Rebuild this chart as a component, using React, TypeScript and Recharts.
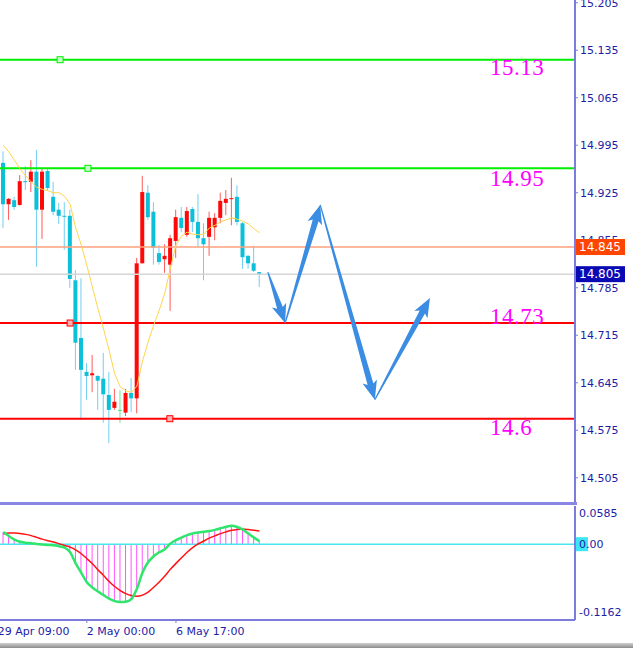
import React from "react";
import {
    ComposedChart,
    Bar,
    Line,
    XAxis,
    YAxis,
    ReferenceLine,
    ReferenceDot,
} from "recharts";

// candles (oldest first)
const opens = [
    14.969, 14.908, 14.914, 14.907, 14.942, 14.941, 14.956, 14.9, 14.957, 14.919,
    14.9, 14.891, 14.891, 14.796, 14.711, 14.661, 14.656, 14.655, 14.651, 14.627,
    14.608, 14.605, 14.601, 14.63, 14.622, 14.821, 14.925, 14.897, 14.836, 14.827,
    14.819, 14.854, 14.888, 14.863, 14.901, 14.882, 14.858, 14.86, 14.874, 14.888,
    14.91, 14.916, 14.919, 14.88, 14.832, 14.821, 14.808,
];
const highs = [
    14.986, 14.917, 14.919, 14.951, 14.964, 14.973, 14.988, 14.961, 14.96, 14.941,
    14.91, 14.911, 14.9, 14.811, 14.799, 14.674, 14.686, 14.656, 14.689, 14.661,
    14.636, 14.634, 14.636, 14.652, 14.829, 14.95, 14.936, 14.911, 14.848, 14.849,
    14.863, 14.9, 14.904, 14.904, 14.904, 14.923, 14.88, 14.897, 14.895, 14.925,
    14.929, 14.947, 14.936, 14.882, 14.833, 14.847, 14.808,
];
const lows = [
    14.873, 14.885, 14.9, 14.906, 14.929, 14.926, 14.816, 14.857, 14.929, 14.892,
    14.879, 14.841, 14.785, 14.664, 14.59, 14.62, 14.631, 14.605, 14.586, 14.556,
    14.605, 14.586, 14.596, 14.602, 14.6, 14.821, 14.885, 14.819, 14.819, 14.807,
    14.751, 14.829, 14.867, 14.86, 14.867, 14.845, 14.796, 14.832, 14.855, 14.88,
    14.892, 14.877, 14.877, 14.813, 14.813, 14.808, 14.786,
];
const closes = [
    14.908, 14.916, 14.904, 14.942, 14.941, 14.956, 14.9, 14.956, 14.932, 14.897,
    14.891, 14.89, 14.798, 14.704, 14.664, 14.655, 14.659, 14.648, 14.628, 14.605,
    14.617, 14.605, 14.63, 14.622, 14.821, 14.926, 14.889, 14.844, 14.823, 14.832,
    14.858, 14.889, 14.873, 14.898, 14.882, 14.858, 14.849, 14.888, 14.888, 14.913,
    14.916, 14.917, 14.882, 14.83, 14.821, 14.81, 14.805,
];
// yellow moving average
const ma = [
    14.995, 14.985, 14.973, 14.96, 14.95, 14.941, 14.933, 14.93, 14.928, 14.925,
    14.925, 14.92, 14.908, 14.873, 14.848, 14.818, 14.786, 14.754, 14.724, 14.693,
    14.658, 14.639, 14.633, 14.631, 14.64, 14.677, 14.705, 14.73, 14.752, 14.777,
    14.814, 14.848, 14.861, 14.867, 14.864, 14.863, 14.864, 14.873, 14.877, 14.882,
    14.885, 14.888, 14.886, 14.883, 14.879, 14.872, 14.866,
];
// MACD main (green + histogram) and signal (red)
const macd = [
    0.0185, 0.0124, 0.007, 0.0036, 0.0023, 0.0015, 0.0003, -0.0005, -0.0011, -0.0015,
    -0.0031, -0.0054, -0.0124, -0.0294, -0.044, -0.0583, -0.0665, -0.0726, -0.0781, -0.0835,
    -0.0873, -0.0886, -0.0881, -0.0842, -0.068, -0.0433, -0.0278, -0.0185, -0.0124, -0.0077,
    0.0008, 0.0062, 0.01, 0.0139, 0.0165, 0.0178, 0.019, 0.0201, 0.0219, 0.0243,
    0.0266, 0.0281, 0.0263, 0.0224, 0.0162, 0.01, 0.0046,
];
const signal = [
    0.0155, 0.017, 0.0173, 0.0162, 0.015, 0.0131, 0.0104, 0.0077, 0.0054, 0.0034,
    0.0008, -0.002, -0.0046, -0.0088, -0.0147, -0.0221, -0.0301, -0.0394, -0.0479, -0.0572,
    -0.0649, -0.0711, -0.0757, -0.0788, -0.0799, -0.0781, -0.0734, -0.066, -0.058, -0.0487,
    -0.0386, -0.0294, -0.0209, -0.0124, -0.0054, 0.0003, 0.0049, 0.0093, 0.0127, 0.0162,
    0.0189, 0.0212, 0.0226, 0.0232, 0.0224, 0.0212, 0.0201,
];

const priceTicks = [15.205, 15.135, 15.065, 14.995, 14.925, 14.855, 14.785, 14.715, 14.645, 14.575, 14.505];
const macdTicks = [0.0585, 0, -0.1162];
const macdTickLabels = ["0.0585", "0.00", "-0.1162"];
const timeTicks = [-1, 15, 31];
const timeLabels = ["29 Apr 09:00", "2 May 00:00", "6 May 17:00"];

// drawn levels
const levels = [15.121, 14.961, 14.733, 14.592];
const levelTexts = ["15.13", "14.95", "14.73", "14.6"];
const askPrice = 14.845;
const bidPrice = 14.805;
const tagPrices = [askPrice, bidPrice];

// forecast zigzag: candle index / price
const pathIdx = [47.5, 50.6, 56.9, 66.7, 76.6];
const pathPrice = [14.808, 14.733, 14.907, 14.62, 14.77];

const candles = opens.map((o, i) => ({
    i,
    range: [lows[i], highs[i]],
    open: o,
    close: closes[i],
    ma: ma[i],
    macd: macd[i],
    signal: signal[i],
}));

const X_DOMAIN = [-0.59, 102.64];
const Y_DOMAIN = [14.4678, 15.209];
const MAIN_H = 503;
const PX = MAIN_H / (Y_DOMAIN[1] - Y_DOMAIN[0]);
const AXIS = "#7c7cdc";
const TXT = "#1d1da6";
const FONT = "DejaVu Sans, sans-serif";
const levelColors = ["#00ee00", "#00ee00", "#ff0000", "#ff0000"];
const levelFill = ["#c8ffc8", "#c8ffc8", "#ffb0b0", "#ffb0b0"];
const tagColors = ["#ff4500", "#0a0ab4"];
const anchorIdx = [10.2, 15.2, 12.0, 29.9];
const labelIdx = 87.4;
const labelPrice = [15.0985, 14.935, 14.7315, 14.568];

function Candle(props: any) {
    const { x, y, width, height, payload } = props;
    if (!payload || height == null) return null;
    const [lo, hi] = payload.range;
    const top = Math.min(y, y + height);
    const h = Math.abs(height);
    const k = h / (hi - lo);
    const c = x + width / 2;
    const yO = top + (hi - payload.open) * k;
    const yC = top + (hi - payload.close) * k;
    const doji = payload.open === payload.close;
    const up = payload.close > payload.open;
    const body = doji ? "#55dd77" : up ? "#ff0808" : "#0cc0da";
    const wick = doji ? "#66e888" : up ? "#ff5a5a" : "#70cff4";
    const bt = Math.min(yO, yC);
    const bh = Math.max(Math.abs(yO - yC), 1);
    return (
        <g>
            <line x1={c} x2={c} y1={top} y2={top + h} stroke={wick} strokeWidth={1} />
            <rect x={c - 2} y={bt} width={4} height={bh} fill={body} />
        </g>
    );
}

function HistBar(props: any) {
    const { x, y, width, height } = props;
    if (height == null) return null;
    const c = x + width / 2;
    return <line x1={c} x2={c} y1={y} y2={y + height} stroke="#ff55ff" strokeWidth={1} />;
}

function Arrow(props: any) {
    const { x1, y1, x2, y2 } = props;
    const dx = x2 - x1;
    const dy = y2 - y1;
    const L = Math.hypot(dx, dy);
    if (!L) return null;
    const ux = dx / L;
    const uy = dy / L;
    const nx = -uy;
    const ny = ux;
    const head = Math.min(16, L * 0.3);
    const bx = x2 - ux * head;
    const by = y2 - uy * head;
    const pts = [
        [x1 + nx * 0.6, y1 + ny * 0.6],
        [bx + nx * 3, by + ny * 3],
        [bx - ux * 3 + nx * 7.5, by - uy * 3 + ny * 7.5],
        [x2, y2],
        [bx - ux * 3 - nx * 7.5, by - uy * 3 - ny * 7.5],
        [bx - nx * 3, by - ny * 3],
        [x1 - nx * 0.6, y1 - ny * 0.6],
    ];
    return <polygon points={pts.map((p) => p.join(",")).join(" ")} fill="#3a8de2" />;
}

// price labels; the last tick also draws the ask/bid boxes so they cover the labels
function PriceTick(props: any) {
    const { x, y, payload, index } = props;
    const last = index === priceTicks.length - 1;
    return (
        <g>
            <text x={x} y={y} dy="0.36em" fill={TXT} fontSize={11} fontFamily={FONT} textAnchor="start">
                {payload.value.toFixed(3)}
            </text>
            {last &&
                tagPrices.map((p, k) => {
                    const ty = y + (payload.value - p) * PX;
                    return (
                        <g key={k}>
                            <rect x={x - 4} y={ty - 8} width={49} height={16} fill={tagColors[k]} />
                            <text x={x - 1} y={ty} dy="0.36em" fill="#ffffff" fontSize={12} fontFamily={FONT}>
                                {p.toFixed(3)}
                            </text>
                        </g>
                    );
                })}
        </g>
    );
}

function MacdTick(props: any) {
    const { x, y, payload, index } = props;
    const shift = index === 0 ? 7 : index === 2 ? -8 : 0;
    return (
        <g>
            {payload.value === 0 && <rect x={x - 4} y={y - 7} width={12} height={14} fill="#3ce6f2" />}
            <text x={x - 1} y={y + shift} dy="0.36em" fill={TXT} fontSize={11} fontFamily={FONT} textAnchor="start">
                {macdTickLabels[index]}
            </text>
        </g>
    );
}

function TimeTick(props: any) {
    const { x, y, index } = props;
    return (
        <text x={x} y={y} dy={10} fill={TXT} fontSize={11} fontFamily={FONT} textAnchor="start">
            {timeLabels[index]}
        </text>
    );
}

export default function App() {
    return (
        <div
            style={{
                position: "absolute",
                left: 0,
                top: 0,
                width: 633,
                height: 648,
                background: "#ffffff",
                overflow: "hidden",
                fontFamily: FONT,
            }}
        >
            <div style={{ position: "absolute", left: 0, top: 0 }}>
                <ComposedChart width={633} height={MAIN_H} data={candles} margin={{ top: 0, right: 0, bottom: 0, left: 0 }}>
                    <XAxis type="number" dataKey="i" domain={X_DOMAIN} allowDataOverflow hide />
                    <YAxis
                        orientation="right"
                        width={58}
                        domain={Y_DOMAIN}
                        allowDataOverflow
                        ticks={priceTicks}
                        interval={0}
                        tick={<PriceTick />}
                        tickSize={3}
                        axisLine={{ stroke: AXIS, strokeWidth: 2 }}
                        tickLine={{ stroke: AXIS }}
                    />
                    <ReferenceLine y={bidPrice} stroke="#d6d6d6" strokeWidth={1.5} />
                    <ReferenceLine y={askPrice} stroke="#ffa07a" strokeWidth={1.5} />
                    {levels.map((v, k) => (
                        <ReferenceLine key={"lv" + k} y={v} stroke={levelColors[k]} strokeWidth={2} />
                    ))}
                    <Bar dataKey="range" barSize={5} shape={<Candle />} isAnimationActive={false} />
                    <Line
                        dataKey="ma"
                        type="linear"
                        stroke="#ffd54a"
                        strokeWidth={1}
                        dot={false}
                        activeDot={false}
                        isAnimationActive={false}
                    />
                    {levels.map((v, k) => (
                        <ReferenceDot
                            key={"an" + k}
                            x={anchorIdx[k]}
                            y={v}
                            r={3}
                            shape={(p: any) => (
                                <rect x={p.cx - 3} y={p.cy - 3} width={6} height={6} fill={levelFill[k]} stroke={levelColors[k]} strokeWidth={1} />
                            )}
                        />
                    ))}
                    {levelTexts.map((t, k) => (
                        <ReferenceDot
                            key={"tx" + k}
                            x={labelIdx}
                            y={labelPrice[k]}
                            r={1}
                            shape={(p: any) => (
                                <text x={p.cx} y={p.cy} fill="#ff00ff" fontSize={23} letterSpacing={0.5} fontFamily="Liberation Serif, serif">
                                    {t}
                                </text>
                            )}
                        />
                    ))}
                    {pathIdx.slice(0, -1).map((xi, k) => (
                        <ReferenceLine
                            key={"ar" + k}
                            segment={[
                                { x: xi, y: pathPrice[k] },
                                { x: pathIdx[k + 1], y: pathPrice[k + 1] },
                            ]}
                            shape={Arrow}
                        />
                    ))}
                </ComposedChart>
            </div>
            <div style={{ position: "absolute", left: 0, top: 502, width: 577, height: 3, background: "#8888e4" }} />
            <div style={{ position: "absolute", left: 0, top: 505 }}>
                <ComposedChart width={633} height={143} data={candles} margin={{ top: 1, right: 0, bottom: 0, left: 0 }}>
                    <XAxis
                        type="number"
                        dataKey="i"
                        domain={X_DOMAIN}
                        allowDataOverflow
                        ticks={timeTicks}
                        interval={0}
                        height={28}
                        tick={<TimeTick />}
                        tickSize={3}
                        axisLine={{ stroke: AXIS, strokeWidth: 2 }}
                        tickLine={{ stroke: AXIS }}
                    />
                    <YAxis
                        orientation="right"
                        width={58}
                        domain={[-0.1162, 0.0585]}
                        allowDataOverflow
                        ticks={macdTicks}
                        interval={0}
                        tick={<MacdTick />}
                        tickSize={3}
                        tickLine={false}
                        axisLine={{ stroke: AXIS, strokeWidth: 2 }}
                    />
                    <ReferenceLine y={0} stroke="#4ae6f0" strokeWidth={1.5} />
                    <Bar dataKey="macd" barSize={1} shape={<HistBar />} isAnimationActive={false} />
                    <Line dataKey="signal" type="monotone" stroke="#ff1414" strokeWidth={1.5} dot={false} activeDot={false} isAnimationActive={false} />
                    <Line dataKey="macd" type="monotone" stroke="#2ee66c" strokeWidth={2.5} dot={false} activeDot={false} isAnimationActive={false} />
                </ComposedChart>
            </div>
            <div
                style={{
                    position: "absolute",
                    left: 0,
                    top: 643,
                    width: 633,
                    height: 5,
                    background: "linear-gradient(#d0d0d0, #8c8c8c)",
                }}
            />
        </div>
    );
}
